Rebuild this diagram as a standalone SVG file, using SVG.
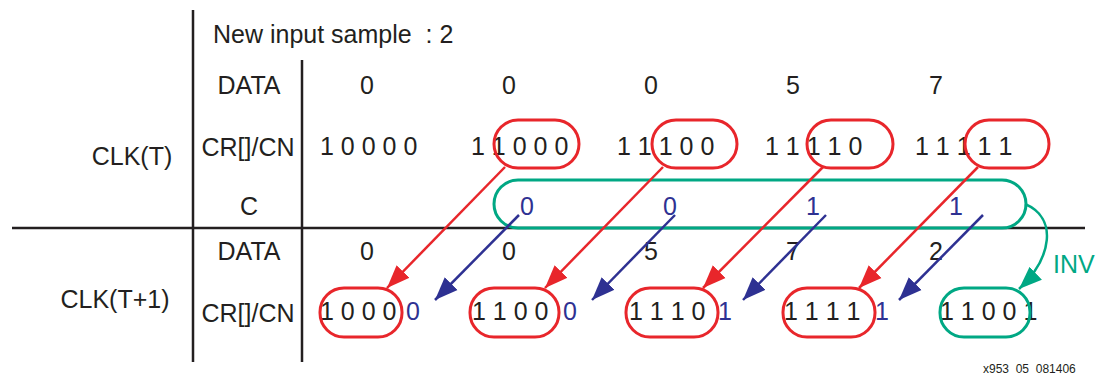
<svg xmlns="http://www.w3.org/2000/svg" width="1107" height="376" viewBox="0 0 1107 376">
  <style>
    text { font-family: "Liberation Sans", Arial, sans-serif; font-size: 25px; fill: #231f20; white-space: pre; }
    .mid { text-anchor: middle; }
    .blue { fill: #2e3192; }
    .green { fill: #00a884; }
    .note { font-size: 12px; }
    .grid { stroke: #231f20; stroke-width: 2.5; fill: none; }
    .ovr { fill: none; stroke: #e8262b; stroke-width: 3; }
    .ovg { fill: none; stroke: #00a884; stroke-width: 3; }
    .ar { stroke: #e8262b; stroke-width: 2.5; fill: none; marker-end: url(#hr); }
    .ab { stroke: #2e3192; stroke-width: 2.5; fill: none; marker-end: url(#hb); }
    .ag { stroke: #00a884; stroke-width: 2.5; fill: none; marker-end: url(#hg); }
  </style>
  <defs>
    <marker id="hr" markerUnits="userSpaceOnUse" markerWidth="24" markerHeight="20" refX="23" refY="10" orient="auto">
      <path d="M0,1 L23,10 L0,19 Z" fill="#e8262b"/>
    </marker>
    <marker id="hb" markerUnits="userSpaceOnUse" markerWidth="24" markerHeight="20" refX="23" refY="10" orient="auto">
      <path d="M0,1 L23,10 L0,19 Z" fill="#2e3192"/>
    </marker>
    <marker id="hg" markerUnits="userSpaceOnUse" markerWidth="24" markerHeight="20" refX="23" refY="10" orient="auto">
      <path d="M0,1 L23,10 L0,19 Z" fill="#00a884"/>
    </marker>
  </defs>

  <!-- table rules -->
  <g id="grid">
    <line class="grid" x1="193" y1="10" x2="193" y2="362"/>
    <line class="grid" x1="302" y1="60" x2="302" y2="362"/>
    <line class="grid" x1="12" y1="228" x2="1085" y2="228"/>
  </g>

  <!-- row headings -->
  <g id="headings">
    <text x="213" y="43">New input sample  : 2</text>
    <text x="249" y="94" class="mid">DATA</text>
    <text x="248" y="156" class="mid">CR[]/CN</text>
    <text x="249" y="215" class="mid">C</text>
    <text x="249" y="260" class="mid">DATA</text>
    <text x="248" y="322" class="mid">CR[]/CN</text>
    <text x="132" y="165" class="mid">CLK(T)</text>
    <text x="115" y="308" class="mid">CLK(T+1)</text>
  </g>

  <!-- clock T values -->
  <g id="data-t">
    <text x="367" y="94" class="mid">0</text>
    <text x="509" y="94" class="mid">0</text>
    <text x="651" y="94" class="mid">0</text>
    <text x="793" y="94" class="mid">5</text>
    <text x="936" y="94" class="mid">7</text>
  </g>
  <g id="cr-t">
    <text x="320" y="155">1 0 0 0 0</text>
    <text x="471" y="155">1 1 0 0 0</text>
    <text x="617" y="155">1 1 1 0 0</text>
    <text x="765" y="155">1 1 1 1 0</text>
    <text x="915" y="155">1 1 1 1 1</text>
  </g>
  <g id="c-t">
    <text x="527" y="215" class="mid blue">0</text>
    <text x="670" y="215" class="mid blue">0</text>
    <text x="813" y="215" class="mid blue">1</text>
    <text x="956" y="215" class="mid blue">1</text>
  </g>

  <!-- clock T+1 values -->
  <g id="data-t1">
    <text x="367" y="260" class="mid">0</text>
    <text x="509" y="260" class="mid">0</text>
    <text x="651" y="260" class="mid">5</text>
    <text x="793" y="260" class="mid">7</text>
    <text x="936" y="260" class="mid">2</text>
  </g>
  <g id="cr-t1">
    <text x="320" y="320">1 0 0 0</text><text x="406" y="320" class="blue">0</text>
    <text x="472" y="320">1 1 0 0</text><text x="563" y="320" class="blue">0</text>
    <text x="629" y="320">1 1 1 0</text><text x="718" y="320" class="blue">1</text>
    <text x="784" y="320">1 1 1 1</text><text x="875" y="320" class="blue">1</text>
    <text x="940" y="320">1 1 0 0 1</text>
  </g>

  <!-- shifted fields -->
  <g id="ovals-t">
    <rect class="ovr" x="494" y="120" width="85" height="48" rx="24"/>
    <rect class="ovr" x="652" y="120" width="85" height="48" rx="24"/>
    <rect class="ovr" x="807" y="120" width="86" height="48" rx="24"/>
    <rect class="ovr" x="965" y="120" width="84" height="48" rx="24"/>
    <rect class="ovg" x="494" y="180" width="532" height="48" rx="24"/>
  </g>
  <g id="ovals-t1">
    <rect class="ovr" x="320" y="288" width="82" height="49" rx="24"/>
    <rect class="ovr" x="470" y="288" width="89" height="49" rx="24"/>
    <rect class="ovr" x="626" y="288" width="92" height="49" rx="24"/>
    <rect class="ovr" x="783" y="288" width="92" height="49" rx="24"/>
    <rect class="ovg" x="940" y="288" width="90" height="49" rx="24"/>
  </g>

  <!-- connectors -->
  <g id="connectors">
    <line class="ar" x1="505" y1="167" x2="387" y2="288"/>
    <line class="ar" x1="663" y1="167" x2="545" y2="288"/>
    <line class="ar" x1="823" y1="167" x2="703" y2="288"/>
    <line class="ar" x1="978" y1="167" x2="859" y2="288"/>
    <line class="ab" x1="519" y1="215" x2="435" y2="300"/>
    <line class="ab" x1="675" y1="215" x2="592" y2="300"/>
    <line class="ab" x1="826" y1="215" x2="743" y2="300"/>
    <line class="ab" x1="983" y1="215" x2="899" y2="300"/>
    <path class="ag" d="M1025,204 C1058,218 1052,258 1019,289"/>
    <text x="1053" y="273" class="green">INV</text>
  </g>

  <text x="983" y="373" class="note">x953  05  081406</text>
</svg>
